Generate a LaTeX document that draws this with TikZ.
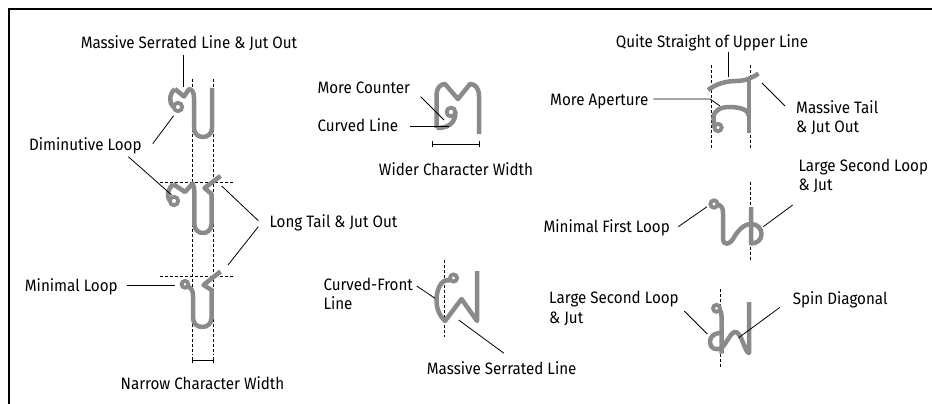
\documentclass[tikz,border=0pt]{standalone}
\usepackage{fontspec}
\setmainfont{Fira Sans}[FakeStretch=0.92]
\usetikzlibrary{calc}
\definecolor{glyph}{HTML}{8A8A8A}
\tikzset{
  g/.style={draw=glyph, line width=4.5pt, line cap=butt, line join=round},
  gc/.style={draw=glyph, line width=3.8pt},
  ptr/.style={draw=black, line width=0.8pt},
  guide/.style={draw=black, line width=0.7pt, dash pattern=on 3pt off 2pt},
  lbl/.style={inner sep=0pt, font=\fontsize{16.5}{19.3}\selectfont, text height=11.4pt, text depth=0pt},
  lblm/.style={inner sep=0pt, font=\fontsize{16.5}{19.3}\selectfont, align=left},
}
\begin{document}
\begin{tikzpicture}[x=1pt,y=-1pt]
\useasboundingbox (0,0) rectangle (932,404);
% frame
\draw[line width=2pt] (9,404) -- (9,9) -- (932,9);

% ===== Left column glyphs =====
% guides
\draw[guide] (192.7,79) -- (192.7,355);
\draw[guide] (213.3,79) -- (213.3,355);
\draw[guide] (160,182.7) -- (233,182.7);
\draw[guide] (160,276.7) -- (233,276.7);
\coordinate (nw1) at (192.7,360);
\coordinate (nw2) at (213.3,360);
\draw[ptr] (nw1) -- (nw2);
\draw[ptr] ($(nw1)+(0,-3)$) -- ($(nw1)+(0,3)$);
\draw[ptr] ($(nw2)+(0,-3)$) -- ($(nw2)+(0,3)$);

% glyph 1
\draw[g] (175,89) .. controls (169,94) and (168.5,103) .. (173.8,107.5);
\draw[gc] (178,107) circle (4.2);
\draw[g] (175,89) -- (184,96.5) -- (189,89) .. controls (193,90) and (194,93) .. (194,98)
  -- (194,128) .. controls (194,140) and (212,140) .. (212,128) -- (212,88);
% glyph 2
\draw[g] (173,184) .. controls (168,189) and (166,196) .. (170,201);
\draw[gc] (174,201) circle (4.2);
\draw[g] (173,184) -- (185,192) -- (192.7,183.5) .. controls (194,186) and (194.3,189) .. (194.3,193)
  -- (194.3,224) .. controls (194.3,236) and (211.5,236) .. (211.5,224) -- (211.5,194) -- (204.5,188) -- (220.5,176);
% glyph 3
\draw[gc] (185,284.3) circle (3.4);
\draw[g] (188,286.5) .. controls (192,288.5) and (193,291) .. (193,296)
  -- (193,318) .. controls (193,330) and (211.5,330) .. (211.5,318) -- (211.5,290) -- (203.5,285) -- (220.5,271.5);

% labels left
\node[lbl] (msl) at (189,42.7) {Massive Serrated Line \& Jut Out};
\node[lbl] (dim) at (85.3,145) {Diminutive Loop};
\node[lbl, anchor=west] (lt) at (269.3,221.7) {Long Tail \& Jut Out};
\node[lbl] (ml) at (71.3,286) {Minimal Loop};
\node[lbl] (ncw) at (202.5,384) {Narrow Character Width};

\coordinate (a1) at (183.3,55); \coordinate (a2) at (183.3,87.5);
\draw[ptr] (a1) -- (a2);
\coordinate (b1) at (152.7,143.7); \coordinate (b2) at (173.7,115.7);
\draw[ptr] (b1) -- (b2);
\coordinate (c1) at (128.3,156.7); \coordinate (c2) at (171.7,195);
\draw[ptr] (c1) -- (c2);
\coordinate (d0) at (258.3,223.7); \coordinate (d1) at (221.7,186); \coordinate (d2) at (228,265);
\draw[ptr] ($(d0)+(0,-3)$) -- (d1);
\draw[ptr] ($(d0)+(0,3)$) -- (d2);
\coordinate (e1) at (127,285.3); \coordinate (e2) at (175,285.3);
\draw[ptr] (e1) -- (e2);

% ===== Middle top glyph =====
\draw[g] (436.5,128) -- (436.5,96) .. controls (436.5,88) and (440,84) .. (445,84) -- (458,99) -- (470,84)
  .. controls (475,84) and (479,88) .. (479,96) -- (479,134);
\draw[g] (436.5,128) .. controls (446,128) and (455.5,125) .. (455.5,112);
\draw[gc] (451,112) circle (4.4);
\coordinate (w1) at (432.5,144.3); \coordinate (w2) at (479.7,144.3);
\draw[ptr] (w1) -- (w2);
\draw[ptr] ($(w1)+(0,-3)$) -- ($(w1)+(0,3)$);
\draw[ptr] ($(w2)+(0,-3)$) -- ($(w2)+(0,3)$);
\node[lbl, anchor=west] (mc) at (317.3,87.7) {More Counter};
\node[lbl, anchor=west] (cl) at (317.3,126) {Curved Line};
\node[lbl] (wcw) at (456,170) {Wider Character Width};
\coordinate (f1) at (420.7,96.7); \coordinate (f2) at (444,120);
\draw[ptr] (f1) -- (f2);
\coordinate (h1) at (410.3,126.3); \coordinate (h2) at (448.7,126.3);
\draw[ptr] (h1) -- (h2);

% ===== Middle bottom glyph =====
\draw[guide] (444.3,260) -- (444.3,337);
\draw[gc] (453.5,278) circle (3.6);
\draw[g] (450,280.5) .. controls (441,278) and (436.5,290) .. (436.5,300)
  .. controls (436.5,311) and (441,317) .. (445,321) -- (461.5,299) -- (477,321) -- (477,271);
\node[lblm, anchor=west] (cfl) at (323.3,293.7) {Curved-Front\\Line};
\node[lbl] (msl2) at (501.7,368.3) {Massive Serrated Line};
\coordinate (i1) at (416.7,286); \coordinate (i2) at (435,298.3);
\draw[ptr] (i1) -- (i2);
\coordinate (j1) at (504,353.3); \coordinate (j2) at (458.7,320);
\draw[ptr] (j1) -- (j2);

% ===== Right top glyph =====
\draw[guide] (711,65) -- (711,148.3);
\draw[guide] (750.7,65) -- (750.7,148.3);
\draw[g] (708,90) .. controls (716,84) and (726,81) .. (736,81) .. controls (745,81) and (752,78) .. (758.5,73.5);
\draw[g] (749,80) -- (749,133);
\draw[gc] (718,127.5) circle (3.7);
\draw[g] (714.3,127.5) -- (713.5,118) .. controls (713.5,110) and (721,107) .. (730,107)
  .. controls (740,107) and (749,110) .. (749,116);
\node[lbl] (qs) at (712,41.7) {Quite Straight of Upper Line};
\node[lbl, anchor=west] (ma) at (550,99.3) {More Aperture};
\node[lblm, anchor=west] (mt) at (796,118) {Massive Tail\\\& Jut Out};
\coordinate (k1) at (728.7,51.7); \coordinate (k2) at (728.7,77.3);
\draw[ptr] (k1) -- (k2);
\coordinate (l1) at (653.3,99); \coordinate (l2) at (710,99); \coordinate (l3) at (720,106);
\draw[ptr] (l1) -- (l2) -- (l3);
\coordinate (m1) at (785,106); \coordinate (m2) at (762,83);
\draw[ptr] (m1) -- (m2);

% ===== Right middle glyph =====
\draw[guide] (750.7,181.7) -- (750.7,260);
\draw[gc] (714,204) circle (3.7);
\draw[g] (717.5,204.5) .. controls (721.5,205.5) and (723,208) .. (723,213) -- (723,238)
  .. controls (723,246) and (729,245) .. (733,239) .. controls (737,232) and (743,224) .. (751,224)
  .. controls (758,224) and (761.5,229) .. (761.5,234) .. controls (761.5,240) and (757,243.5) .. (751,243.5) -- (751,207);
\node[lblm, anchor=west] (lsl) at (798.3,175.8) {Large Second Loop\\\& Jut};
\node[lbl, anchor=east] (mfl) at (670,226.7) {Minimal First Loop};
\coordinate (n1) at (678.3,226.7); \coordinate (n2) at (707,206.7);
\draw[ptr] (n1) -- (n2);
\coordinate (o1) at (792.7,205); \coordinate (o2) at (763.3,226.7);
\draw[ptr] (o1) -- (o2);

% ===== Right bottom glyph =====
\draw[guide] (720.7,289.3) -- (720.7,368.3);
\draw[gc] (716.5,308.3) circle (3.5);
\draw[g] (719.5,310) .. controls (721,311) and (721.5,313) .. (721.5,316) -- (721.5,353.5);
\draw[g] (721.5,333) .. controls (713,333) and (710,337) .. (710,342)
  .. controls (710,348) and (715,351) .. (721.5,348) .. controls (727,343) and (731,331) .. (736,332)
  .. controls (742,334) and (745,353) .. (749,353) -- (749,302);
\node[lblm, anchor=west] (lsl2) at (549,308.5) {Large Second Loop\\\& Jut};
\node[lbl, anchor=west] (sd) at (792.7,298.3) {Spin Diagonal};
\coordinate (p1) at (684.3,311); \coordinate (p2) at (707.3,334);
\draw[ptr] (p1) -- (p2);
\coordinate (q1) at (780,307.3); \coordinate (q2) at (738.7,337.7);
\draw[ptr] (q1) -- (q2);
\end{tikzpicture}
\end{document}
